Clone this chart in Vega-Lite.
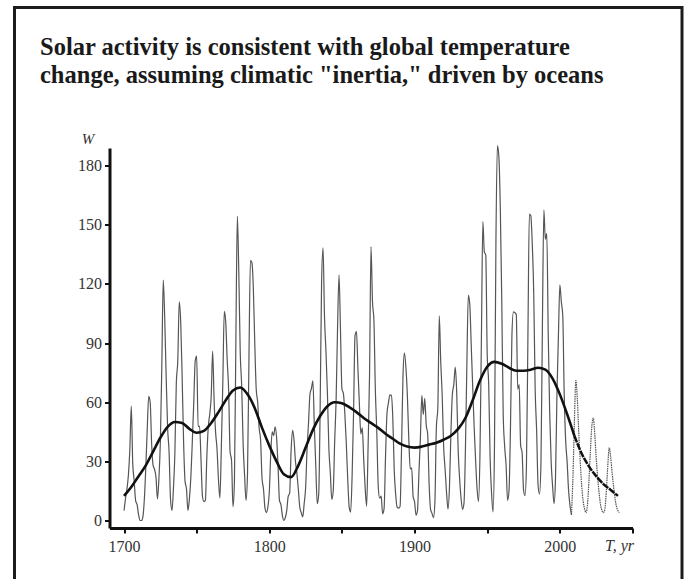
{
  "$schema": "https://vega.github.io/schema/vega-lite/v6.json",
  "autosize": {"type": "none"},
  "width": 667.5,
  "height": 574.5,
  "padding": {"left": 14.5, "top": 7.5, "right": 4, "bottom": 0},
  "background": "white",
  "title": {
    "text": ["Solar activity is consistent with global temperature", "change, assuming climatic \"inertia,\" driven by oceans"],
    "anchor": "start",
    "frame": "group",
    "dx": 25.5,
    "dy": 100,
    "offset": 0,
    "baseline": "alphabetic",
    "font": "Liberation Serif",
    "fontSize": 24.5,
    "fontWeight": "bold",
    "color": "#1a1a1a",
    "lineHeight": 28
  },
  "datasets": {
    "wolf": [
      {"year":1700,"W":5,"part":"observed"},{"year":1701,"W":11,"part":"observed"},{"year":1702,"W":16,"part":"observed"},{"year":1703,"W":23,"part":"observed"},{"year":1704,"W":36,"part":"observed"},{"year":1705,"W":58,"part":"observed"},{"year":1706,"W":29,"part":"observed"},{"year":1707,"W":20,"part":"observed"},{"year":1708,"W":10,"part":"observed"},{"year":1709,"W":8,"part":"observed"},
      {"year":1710,"W":3,"part":"observed"},{"year":1711,"W":0,"part":"observed"},{"year":1712,"W":0,"part":"observed"},{"year":1713,"W":2,"part":"observed"},{"year":1714,"W":11,"part":"observed"},{"year":1715,"W":27,"part":"observed"},{"year":1716,"W":47,"part":"observed"},{"year":1717,"W":63,"part":"observed"},{"year":1718,"W":60,"part":"observed"},{"year":1719,"W":39,"part":"observed"},
      {"year":1720,"W":28,"part":"observed"},{"year":1721,"W":26,"part":"observed"},{"year":1722,"W":22,"part":"observed"},{"year":1723,"W":11,"part":"observed"},{"year":1724,"W":21,"part":"observed"},{"year":1725,"W":40,"part":"observed"},{"year":1726,"W":78,"part":"observed"},{"year":1727,"W":122,"part":"observed"},{"year":1728,"W":103,"part":"observed"},{"year":1729,"W":73,"part":"observed"},
      {"year":1730,"W":47,"part":"observed"},{"year":1731,"W":35,"part":"observed"},{"year":1732,"W":11,"part":"observed"},{"year":1733,"W":5,"part":"observed"},{"year":1734,"W":16,"part":"observed"},{"year":1735,"W":34,"part":"observed"},{"year":1736,"W":70,"part":"observed"},{"year":1737,"W":81,"part":"observed"},{"year":1738,"W":111,"part":"observed"},{"year":1739,"W":101,"part":"observed"},
      {"year":1740,"W":73,"part":"observed"},{"year":1741,"W":40,"part":"observed"},{"year":1742,"W":20,"part":"observed"},{"year":1743,"W":16,"part":"observed"},{"year":1744,"W":5,"part":"observed"},{"year":1745,"W":11,"part":"observed"},{"year":1746,"W":22,"part":"observed"},{"year":1747,"W":40,"part":"observed"},{"year":1748,"W":60,"part":"observed"},{"year":1749,"W":80.9,"part":"observed"},
      {"year":1750,"W":83.4,"part":"observed"},{"year":1751,"W":47.7,"part":"observed"},{"year":1752,"W":47.8,"part":"observed"},{"year":1753,"W":30.7,"part":"observed"},{"year":1754,"W":12.2,"part":"observed"},{"year":1755,"W":9.6,"part":"observed"},{"year":1756,"W":10.2,"part":"observed"},{"year":1757,"W":32.4,"part":"observed"},{"year":1758,"W":47.6,"part":"observed"},{"year":1759,"W":54,"part":"observed"},
      {"year":1760,"W":62.9,"part":"observed"},{"year":1761,"W":85.9,"part":"observed"},{"year":1762,"W":61.2,"part":"observed"},{"year":1763,"W":45.1,"part":"observed"},{"year":1764,"W":36.4,"part":"observed"},{"year":1765,"W":20.9,"part":"observed"},{"year":1766,"W":11.4,"part":"observed"},{"year":1767,"W":37.8,"part":"observed"},{"year":1768,"W":69.8,"part":"observed"},{"year":1769,"W":106.1,"part":"observed"},
      {"year":1770,"W":100.8,"part":"observed"},{"year":1771,"W":81.6,"part":"observed"},{"year":1772,"W":66.5,"part":"observed"},{"year":1773,"W":34.8,"part":"observed"},{"year":1774,"W":30.6,"part":"observed"},{"year":1775,"W":7,"part":"observed"},{"year":1776,"W":19.8,"part":"observed"},{"year":1777,"W":92.5,"part":"observed"},{"year":1778,"W":154.4,"part":"observed"},{"year":1779,"W":125.9,"part":"observed"},
      {"year":1780,"W":84.8,"part":"observed"},{"year":1781,"W":68.1,"part":"observed"},{"year":1782,"W":38.5,"part":"observed"},{"year":1783,"W":22.8,"part":"observed"},{"year":1784,"W":10.2,"part":"observed"},{"year":1785,"W":24.1,"part":"observed"},{"year":1786,"W":82.9,"part":"observed"},{"year":1787,"W":132,"part":"observed"},{"year":1788,"W":130.9,"part":"observed"},{"year":1789,"W":118.1,"part":"observed"},
      {"year":1790,"W":89.9,"part":"observed"},{"year":1791,"W":66.6,"part":"observed"},{"year":1792,"W":60,"part":"observed"},{"year":1793,"W":46.9,"part":"observed"},{"year":1794,"W":41,"part":"observed"},{"year":1795,"W":21.3,"part":"observed"},{"year":1796,"W":16,"part":"observed"},{"year":1797,"W":6.4,"part":"observed"},{"year":1798,"W":4.1,"part":"observed"},{"year":1799,"W":6.8,"part":"observed"},
      {"year":1800,"W":14.5,"part":"observed"},{"year":1801,"W":34,"part":"observed"},{"year":1802,"W":45,"part":"observed"},{"year":1803,"W":43.1,"part":"observed"},{"year":1804,"W":47.5,"part":"observed"},{"year":1805,"W":42.2,"part":"observed"},{"year":1806,"W":28.1,"part":"observed"},{"year":1807,"W":10.1,"part":"observed"},{"year":1808,"W":8.1,"part":"observed"},{"year":1809,"W":2.5,"part":"observed"},
      {"year":1810,"W":0,"part":"observed"},{"year":1811,"W":1.4,"part":"observed"},{"year":1812,"W":5,"part":"observed"},{"year":1813,"W":12.2,"part":"observed"},{"year":1814,"W":13.9,"part":"observed"},{"year":1815,"W":35.4,"part":"observed"},{"year":1816,"W":45.8,"part":"observed"},{"year":1817,"W":41.1,"part":"observed"},{"year":1818,"W":30.1,"part":"observed"},{"year":1819,"W":23.9,"part":"observed"},
      {"year":1820,"W":15.6,"part":"observed"},{"year":1821,"W":6.6,"part":"observed"},{"year":1822,"W":4,"part":"observed"},{"year":1823,"W":1.8,"part":"observed"},{"year":1824,"W":8.5,"part":"observed"},{"year":1825,"W":16.6,"part":"observed"},{"year":1826,"W":36.3,"part":"observed"},{"year":1827,"W":49.6,"part":"observed"},{"year":1828,"W":64.2,"part":"observed"},{"year":1829,"W":67,"part":"observed"},
      {"year":1830,"W":70.9,"part":"observed"},{"year":1831,"W":47.8,"part":"observed"},{"year":1832,"W":27.5,"part":"observed"},{"year":1833,"W":8.5,"part":"observed"},{"year":1834,"W":13.2,"part":"observed"},{"year":1835,"W":56.9,"part":"observed"},{"year":1836,"W":121.5,"part":"observed"},{"year":1837,"W":138.3,"part":"observed"},{"year":1838,"W":103.2,"part":"observed"},{"year":1839,"W":85.7,"part":"observed"},
      {"year":1840,"W":64.6,"part":"observed"},{"year":1841,"W":36.7,"part":"observed"},{"year":1842,"W":24.2,"part":"observed"},{"year":1843,"W":10.7,"part":"observed"},{"year":1844,"W":15,"part":"observed"},{"year":1845,"W":40.1,"part":"observed"},{"year":1846,"W":61.5,"part":"observed"},{"year":1847,"W":98.5,"part":"observed"},{"year":1848,"W":124.7,"part":"observed"},{"year":1849,"W":96.3,"part":"observed"},
      {"year":1850,"W":66.6,"part":"observed"},{"year":1851,"W":64.5,"part":"observed"},{"year":1852,"W":54.1,"part":"observed"},{"year":1853,"W":39,"part":"observed"},{"year":1854,"W":20.6,"part":"observed"},{"year":1855,"W":6.7,"part":"observed"},{"year":1856,"W":4.3,"part":"observed"},{"year":1857,"W":22.7,"part":"observed"},{"year":1858,"W":54.8,"part":"observed"},{"year":1859,"W":93.8,"part":"observed"},
      {"year":1860,"W":95.8,"part":"observed"},{"year":1861,"W":77.2,"part":"observed"},{"year":1862,"W":59.1,"part":"observed"},{"year":1863,"W":44,"part":"observed"},{"year":1864,"W":47,"part":"observed"},{"year":1865,"W":30.5,"part":"observed"},{"year":1866,"W":16.3,"part":"observed"},{"year":1867,"W":7.3,"part":"observed"},{"year":1868,"W":37.6,"part":"observed"},{"year":1869,"W":74,"part":"observed"},
      {"year":1870,"W":139,"part":"observed"},{"year":1871,"W":111.2,"part":"observed"},{"year":1872,"W":101.6,"part":"observed"},{"year":1873,"W":66.2,"part":"observed"},{"year":1874,"W":44.7,"part":"observed"},{"year":1875,"W":17,"part":"observed"},{"year":1876,"W":11.3,"part":"observed"},{"year":1877,"W":12.4,"part":"observed"},{"year":1878,"W":3.4,"part":"observed"},{"year":1879,"W":6,"part":"observed"},
      {"year":1880,"W":32.3,"part":"observed"},{"year":1881,"W":54.3,"part":"observed"},{"year":1882,"W":59.7,"part":"observed"},{"year":1883,"W":63.7,"part":"observed"},{"year":1884,"W":63.5,"part":"observed"},{"year":1885,"W":52.2,"part":"observed"},{"year":1886,"W":25.4,"part":"observed"},{"year":1887,"W":13.1,"part":"observed"},{"year":1888,"W":6.8,"part":"observed"},{"year":1889,"W":6.3,"part":"observed"},
      {"year":1890,"W":7.1,"part":"observed"},{"year":1891,"W":35.6,"part":"observed"},{"year":1892,"W":73,"part":"observed"},{"year":1893,"W":85.1,"part":"observed"},{"year":1894,"W":78,"part":"observed"},{"year":1895,"W":64,"part":"observed"},{"year":1896,"W":41.8,"part":"observed"},{"year":1897,"W":26.2,"part":"observed"},{"year":1898,"W":26.7,"part":"observed"},{"year":1899,"W":12.1,"part":"observed"},
      {"year":1900,"W":9.5,"part":"observed"},{"year":1901,"W":2.7,"part":"observed"},{"year":1902,"W":5,"part":"observed"},{"year":1903,"W":24.4,"part":"observed"},{"year":1904,"W":42,"part":"observed"},{"year":1905,"W":63.5,"part":"observed"},{"year":1906,"W":53.8,"part":"observed"},{"year":1907,"W":62,"part":"observed"},{"year":1908,"W":48.5,"part":"observed"},{"year":1909,"W":43.9,"part":"observed"},
      {"year":1910,"W":18.6,"part":"observed"},{"year":1911,"W":5.7,"part":"observed"},{"year":1912,"W":3.6,"part":"observed"},{"year":1913,"W":1.4,"part":"observed"},{"year":1914,"W":9.6,"part":"observed"},{"year":1915,"W":47.4,"part":"observed"},{"year":1916,"W":57.1,"part":"observed"},{"year":1917,"W":103.9,"part":"observed"},{"year":1918,"W":80.6,"part":"observed"},{"year":1919,"W":63.6,"part":"observed"},
      {"year":1920,"W":37.6,"part":"observed"},{"year":1921,"W":26.1,"part":"observed"},{"year":1922,"W":14.2,"part":"observed"},{"year":1923,"W":5.8,"part":"observed"},{"year":1924,"W":16.7,"part":"observed"},{"year":1925,"W":44.3,"part":"observed"},{"year":1926,"W":63.9,"part":"observed"},{"year":1927,"W":69,"part":"observed"},{"year":1928,"W":77.8,"part":"observed"},{"year":1929,"W":64.9,"part":"observed"},
      {"year":1930,"W":35.7,"part":"observed"},{"year":1931,"W":21.2,"part":"observed"},{"year":1932,"W":11.1,"part":"observed"},{"year":1933,"W":5.7,"part":"observed"},{"year":1934,"W":8.7,"part":"observed"},{"year":1935,"W":36.1,"part":"observed"},{"year":1936,"W":79.7,"part":"observed"},{"year":1937,"W":114.4,"part":"observed"},{"year":1938,"W":109.6,"part":"observed"},{"year":1939,"W":88.8,"part":"observed"},
      {"year":1940,"W":67.8,"part":"observed"},{"year":1941,"W":47.5,"part":"observed"},{"year":1942,"W":30.6,"part":"observed"},{"year":1943,"W":16.3,"part":"observed"},{"year":1944,"W":9.6,"part":"observed"},{"year":1945,"W":33.2,"part":"observed"},{"year":1946,"W":92.6,"part":"observed"},{"year":1947,"W":151.6,"part":"observed"},{"year":1948,"W":136.3,"part":"observed"},{"year":1949,"W":134.7,"part":"observed"},
      {"year":1950,"W":83.9,"part":"observed"},{"year":1951,"W":69.4,"part":"observed"},{"year":1952,"W":31.5,"part":"observed"},{"year":1953,"W":13.9,"part":"observed"},{"year":1954,"W":4.4,"part":"observed"},{"year":1955,"W":38,"part":"observed"},{"year":1956,"W":141.7,"part":"observed"},{"year":1957,"W":190.2,"part":"observed"},{"year":1958,"W":184.8,"part":"observed"},{"year":1959,"W":159,"part":"observed"},
      {"year":1960,"W":112.3,"part":"observed"},{"year":1961,"W":53.9,"part":"observed"},{"year":1962,"W":37.6,"part":"observed"},{"year":1963,"W":27.9,"part":"observed"},{"year":1964,"W":10.2,"part":"observed"},{"year":1965,"W":15.1,"part":"observed"},{"year":1966,"W":47,"part":"observed"},{"year":1967,"W":93.8,"part":"observed"},{"year":1968,"W":105.9,"part":"observed"},{"year":1969,"W":105.5,"part":"observed"},
      {"year":1970,"W":104.5,"part":"observed"},{"year":1971,"W":66.6,"part":"observed"},{"year":1972,"W":68.9,"part":"observed"},{"year":1973,"W":38,"part":"observed"},{"year":1974,"W":34.5,"part":"observed"},{"year":1975,"W":15.5,"part":"observed"},{"year":1976,"W":12.6,"part":"observed"},{"year":1977,"W":27.5,"part":"observed"},{"year":1978,"W":92.5,"part":"observed"},{"year":1979,"W":155.4,"part":"observed"},
      {"year":1980,"W":154.6,"part":"observed"},{"year":1981,"W":140.4,"part":"observed"},{"year":1982,"W":115.9,"part":"observed"},{"year":1983,"W":66.6,"part":"observed"},{"year":1984,"W":45.9,"part":"observed"},{"year":1985,"W":17.9,"part":"observed"},{"year":1986,"W":13.4,"part":"observed"},{"year":1987,"W":29.4,"part":"observed"},{"year":1988,"W":100.2,"part":"observed"},{"year":1989,"W":157.6,"part":"observed"},
      {"year":1990,"W":142.6,"part":"observed"},{"year":1991,"W":145.7,"part":"observed"},{"year":1992,"W":94.3,"part":"observed"},{"year":1993,"W":54.6,"part":"observed"},{"year":1994,"W":29.9,"part":"observed"},{"year":1995,"W":17.5,"part":"observed"},{"year":1996,"W":8.6,"part":"observed"},{"year":1997,"W":21.5,"part":"observed"},{"year":1998,"W":64.3,"part":"observed"},{"year":1999,"W":93.3,"part":"observed"},
      {"year":2000,"W":119.6,"part":"observed"},{"year":2001,"W":111,"part":"observed"},{"year":2002,"W":104,"part":"observed"},{"year":2003,"W":63.7,"part":"observed"},{"year":2004,"W":40.4,"part":"observed"},{"year":2005,"W":29.8,"part":"observed"},{"year":2006,"W":15.2,"part":"observed"},{"year":2007,"W":7.5,"part":"observed"},{"year":2008,"W":2.9,"part":"observed"},
      {"year":2008,"W":2.9,"part":"forecast"},{"year":2009,"W":22,"part":"forecast"},{"year":2010,"W":50,"part":"forecast"},{"year":2011,"W":71,"part":"forecast"},{"year":2012,"W":62,"part":"forecast"},{"year":2013,"W":45,"part":"forecast"},{"year":2014,"W":30,"part":"forecast"},{"year":2015,"W":18,"part":"forecast"},{"year":2016,"W":10,"part":"forecast"},{"year":2017,"W":6,"part":"forecast"},
      {"year":2018,"W":4,"part":"forecast"},{"year":2019,"W":8,"part":"forecast"},{"year":2020,"W":20,"part":"forecast"},{"year":2021,"W":35,"part":"forecast"},{"year":2022,"W":48,"part":"forecast"},{"year":2023,"W":52,"part":"forecast"},{"year":2024,"W":44,"part":"forecast"},{"year":2025,"W":32,"part":"forecast"},{"year":2026,"W":22,"part":"forecast"},{"year":2027,"W":14,"part":"forecast"},
      {"year":2028,"W":8,"part":"forecast"},{"year":2029,"W":5,"part":"forecast"},{"year":2030,"W":4,"part":"forecast"},{"year":2031,"W":6,"part":"forecast"},{"year":2032,"W":15,"part":"forecast"},{"year":2033,"W":28,"part":"forecast"},{"year":2034,"W":37,"part":"forecast"},{"year":2035,"W":32,"part":"forecast"},{"year":2036,"W":24,"part":"forecast"},{"year":2037,"W":17,"part":"forecast"},
      {"year":2038,"W":11,"part":"forecast"},{"year":2039,"W":7,"part":"forecast"},{"year":2040,"W":5,"part":"forecast"},{"year":2041,"W":4,"part":"forecast"}
    ],
    "trend": [
      {"year":1700,"W":12.5,"part":"observed"},{"year":1705,"W":17,"part":"observed"},{"year":1710,"W":22.5,"part":"observed"},{"year":1715,"W":28,"part":"observed"},{"year":1720,"W":35,"part":"observed"},{"year":1725,"W":42,"part":"observed"},{"year":1730,"W":47.5,"part":"observed"},{"year":1735,"W":50,"part":"observed"},{"year":1740,"W":49.5,"part":"observed"},{"year":1745,"W":46.5,"part":"observed"},
      {"year":1750,"W":44.5,"part":"observed"},{"year":1755,"W":45.5,"part":"observed"},{"year":1760,"W":49.5,"part":"observed"},{"year":1765,"W":55,"part":"observed"},{"year":1770,"W":61,"part":"observed"},{"year":1775,"W":66,"part":"observed"},{"year":1780,"W":67.5,"part":"observed"},{"year":1785,"W":64,"part":"observed"},{"year":1790,"W":57,"part":"observed"},{"year":1795,"W":47,"part":"observed"},
      {"year":1800,"W":38,"part":"observed"},{"year":1805,"W":30,"part":"observed"},{"year":1810,"W":23.5,"part":"observed"},{"year":1815,"W":22,"part":"observed"},{"year":1820,"W":28,"part":"observed"},{"year":1825,"W":37,"part":"observed"},{"year":1830,"W":46,"part":"observed"},{"year":1835,"W":53,"part":"observed"},{"year":1840,"W":58,"part":"observed"},{"year":1845,"W":60,"part":"observed"},
      {"year":1850,"W":59.5,"part":"observed"},{"year":1855,"W":57.5,"part":"observed"},{"year":1860,"W":55,"part":"observed"},{"year":1865,"W":52,"part":"observed"},{"year":1870,"W":49.5,"part":"observed"},{"year":1875,"W":47,"part":"observed"},{"year":1880,"W":44,"part":"observed"},{"year":1885,"W":41.5,"part":"observed"},{"year":1890,"W":39,"part":"observed"},{"year":1895,"W":37.5,"part":"observed"},
      {"year":1900,"W":37,"part":"observed"},{"year":1905,"W":37.5,"part":"observed"},{"year":1910,"W":38.5,"part":"observed"},{"year":1915,"W":39.5,"part":"observed"},{"year":1920,"W":41,"part":"observed"},{"year":1925,"W":43,"part":"observed"},{"year":1930,"W":46.5,"part":"observed"},{"year":1935,"W":52,"part":"observed"},{"year":1940,"W":61,"part":"observed"},{"year":1945,"W":71,"part":"observed"},
      {"year":1950,"W":78,"part":"observed"},{"year":1955,"W":80.5,"part":"observed"},{"year":1960,"W":79.5,"part":"observed"},{"year":1965,"W":77.5,"part":"observed"},{"year":1970,"W":76,"part":"observed"},{"year":1975,"W":76,"part":"observed"},{"year":1980,"W":76.5,"part":"observed"},{"year":1985,"W":77.5,"part":"observed"},{"year":1990,"W":76.5,"part":"observed"},{"year":1995,"W":72,"part":"observed"},
      {"year":2000,"W":64,"part":"observed"},{"year":2005,"W":54,"part":"observed"},{"year":2010,"W":43,"part":"observed"},
      {"year":2010,"W":43,"part":"forecast"},{"year":2015,"W":34,"part":"forecast"},{"year":2020,"W":27.5,"part":"forecast"},{"year":2025,"W":22.5,"part":"forecast"},{"year":2030,"W":18.5,"part":"forecast"},{"year":2035,"W":15.5,"part":"forecast"},{"year":2040,"W":12.5,"part":"forecast"}
    ]
  },
  "encoding": {
    "x": {
      "field": "year",
      "type": "quantitative",
      "scale": {"domain": [1690, 2050], "range": [95, 618], "nice": false, "zero": false},
      "axis": {
        "values": [1700, 1750, 1800, 1850, 1900, 1950, 2000, 2050],
        "labelExpr": "datum.value % 100 == 0 && datum.value < 2050 ? '' + datum.value : ''",
        "offset": -54,
        "grid": false,
        "domainColor": "#111111",
        "domainWidth": 3,
        "tickColor": "#111111",
        "tickWidth": 2,
        "tickSize": 5,
        "labelFont": "Liberation Serif",
        "labelFontSize": 16,
        "labelColor": "#333333",
        "labelPadding": 5,
        "labelFlush": false,
        "labelOverlap": false,
        "title": "T, yr",
        "titleFont": "Liberation Serif",
        "titleFontStyle": "italic",
        "titleFontWeight": "normal",
        "titleFontSize": 16,
        "titleColor": "#333333",
        "titleX": 604.5,
        "titleY": 22,
        "titleAlign": "center",
        "titleBaseline": "alphabetic"
      }
    },
    "y": {
      "field": "W",
      "type": "quantitative",
      "scale": {"domain": [-3.8, 189], "range": [520.5, 140.5], "nice": false, "zero": false},
      "axis": {
        "values": [0, 30, 60, 90, 120, 150, 180],
        "offset": -95,
        "grid": false,
        "domainColor": "#111111",
        "domainWidth": 3,
        "tickColor": "#111111",
        "tickWidth": 2,
        "tickSize": 5,
        "labelFont": "Liberation Serif",
        "labelFontSize": 16,
        "labelColor": "#333333",
        "labelPadding": 3,
        "title": "W",
        "titleFont": "Liberation Serif",
        "titleFontStyle": "italic",
        "titleFontWeight": "normal",
        "titleFontSize": 15,
        "titleColor": "#333333",
        "titleAngle": 0,
        "titleX": -22,
        "titleY": 135.5,
        "titleAlign": "center",
        "titleBaseline": "alphabetic"
      }
    }
  },
  "layer": [
    {
      "data": {"name": "wolf"},
      "transform": [{"filter": "datum.part == 'observed'"}],
      "mark": {"type": "line", "color": "#555555", "strokeWidth": 1.2, "interpolate": "monotone"}
    },
    {
      "data": {"name": "wolf"},
      "transform": [{"filter": "datum.part == 'forecast'"}],
      "mark": {"type": "line", "color": "#555555", "strokeWidth": 1.2, "strokeDash": [1.5, 0.8], "interpolate": "monotone"}
    },
    {
      "data": {"name": "trend"},
      "transform": [{"filter": "datum.part == 'observed'"}],
      "mark": {"type": "line", "color": "#111111", "strokeWidth": 2.6, "interpolate": "monotone"}
    },
    {
      "data": {"name": "trend"},
      "transform": [{"filter": "datum.part == 'forecast'"}],
      "mark": {"type": "line", "color": "#111111", "strokeWidth": 2.5, "strokeDash": [7, 1], "interpolate": "monotone"}
    }
  ],
  "config": {
    "view": {"stroke": "#1c1c1c", "strokeWidth": 3},
    "axis": {"grid": false}
  }
}
